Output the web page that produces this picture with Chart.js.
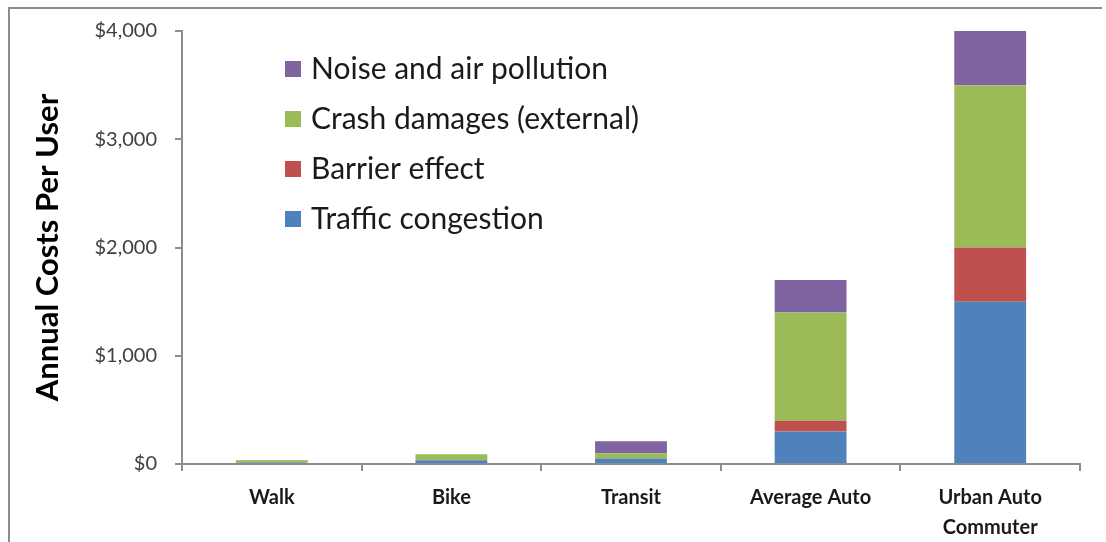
<!DOCTYPE html>
<html>
<head>
<meta charset="utf-8">
<script src="https://cdn.jsdelivr.net/npm/chart.js@4"></script>
<style>
  html, body { margin: 0; padding: 0; background: #fff; }
  #wrap { position: relative; width: 1106px; height: 542px; }
  #frame { position: absolute; left: 8px; top: 7px; width: 1092px; height: 540px;
           border-left: 2px solid #8c8c8c; border-top: 2px solid #8c8c8c; pointer-events: none; }
</style>
</head>
<body>
<div id="wrap">
  <canvas id="myChart" width="1106" height="542"></canvas>
  <div id="frame"></div>
</div>
<script>
// data
const modes = ["Walk", "Bike", "Transit", "Average Auto", ["Urban Auto", "Commuter"]];
const congestion = [15, 35, 50, 300, 1500];
const barrier    = [0, 0, 0, 100, 500];
const crash      = [20, 55, 50, 1000, 1500];
const pollution  = [3, 0, 110, 300, 500];
const yTicks = [0, 1000, 2000, 3000, 4000];

const FONT = "Lato, 'Open Sans', sans-serif";

// legend drawn inside the plot, top-left, top series first
const insideLegend = {
  id: "insideLegend",
  afterDraw(chart) {
    const ctx = chart.ctx;
    const sets = chart.data.datasets.slice().reverse();
    ctx.save();
    ctx.font = "30px " + FONT;
    ctx.textBaseline = "middle";
    sets.forEach((ds, i) => {
      let y = 68 + i * 50;
      ctx.fillStyle = ds.backgroundColor;
      ctx.fillRect(285, y - 7, 16, 16);
      ctx.fillStyle = "#1a1a1a";
      ctx.fillText(ds.label, 311, y + 1);
    });
    ctx.restore();
  }
};

var ctx = document.getElementById("myChart");
var myChart = new Chart(ctx, {
  type: "bar",
  data: {
    labels: modes,
    datasets: [
      { label: "Traffic congestion", data: congestion, backgroundColor: "#4F81BD" },
      { label: "Barrier effect", data: barrier, backgroundColor: "#C0504D" },
      { label: "Crash damages (external)", data: crash, backgroundColor: "#9BBB59" },
      { label: "Noise and air pollution", data: pollution, backgroundColor: "#8064A2" },
    ],
  },
  options: {
    responsive: false,
    animation: false,
    layout: { padding: { left: 0, right: 26, top: 31, bottom: 0 } },
    datasets: { bar: { categoryPercentage: 1, barPercentage: 0.4, borderWidth: 0 } },
    plugins: { legend: { display: false }, tooltip: { enabled: false } },
    scales: {
      x: {
        stacked: true,
        border: { color: "#8c8c8c", width: 2 },
        grid: { drawOnChartArea: false, drawTicks: true, tickLength: 7, color: "#8c8c8c", lineWidth: 2, offset: true },
        ticks: { color: "#1a1a1a", font: { family: FONT, size: 20, weight: "bold", lineHeight: 1.5 }, padding: 12, maxRotation: 0 },
        afterFit: (axis) => { axis.height = 78; },
      },
      y: {
        stacked: true,
        min: 0,
        max: 4000,
        afterBuildTicks: (axis) => { axis.ticks = yTicks.map(v => ({ value: v })); },
        afterFit: (axis) => { axis.width = 182; },
        border: { color: "#8c8c8c", width: 2 },
        grid: { drawOnChartArea: false, drawTicks: true, tickLength: 7, color: "#8c8c8c", lineWidth: 2 },
        ticks: {
          color: "#404040",
          font: { family: FONT, size: 20 },
          padding: 18,
          callback: (v) => "$" + v.toLocaleString("en-US"),
        },
        title: {
          display: true,
          text: "Annual Costs Per User",
          color: "#000",
          font: { family: FONT, size: 31, weight: "bold" },
          padding: { top: 29, bottom: 10 },
        },
      },
    },
  },
  plugins: [insideLegend],
});
</script>
</body>
</html>
